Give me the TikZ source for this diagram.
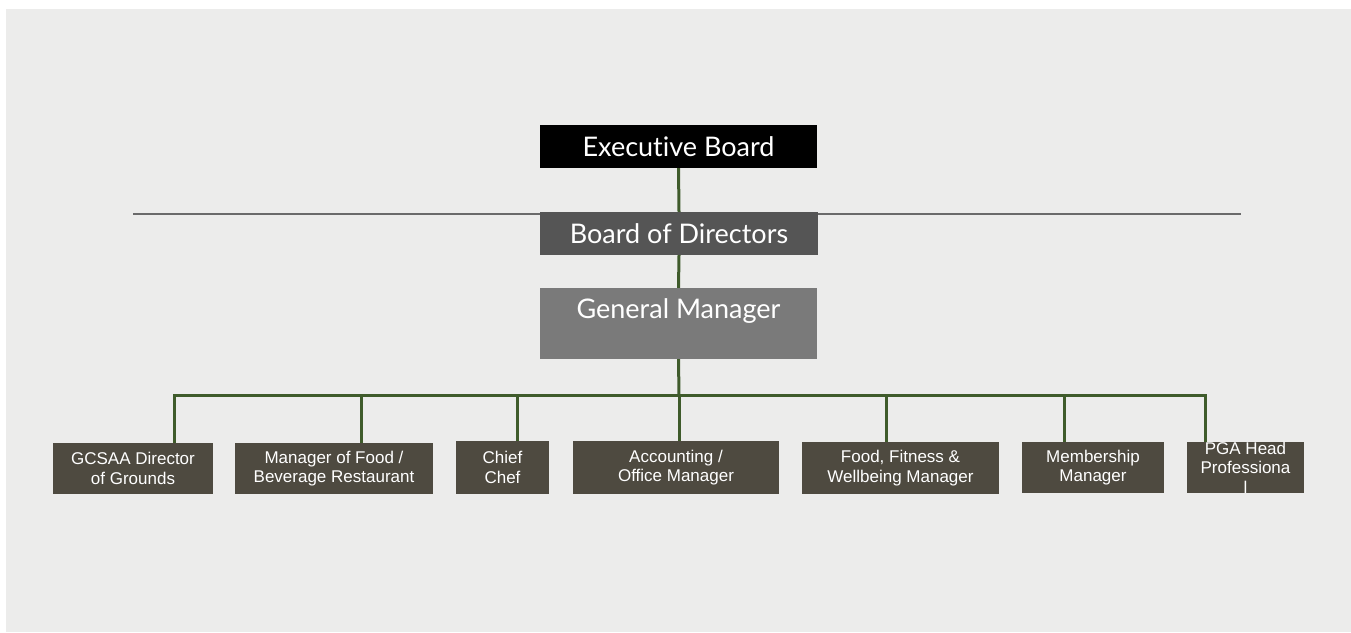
\documentclass[tikz,border=0pt]{standalone}
\usepackage{fontspec}
\setmainfont{Liberation Sans}
\newfontfamily\topfont[Ligatures={NoCommon}]{Lato}
\definecolor{bgc}{HTML}{ECECEB}
\definecolor{greenline}{HTML}{3F5B2B}
\definecolor{childc}{HTML}{4E4A40}
\definecolor{bodc}{HTML}{555555}
\definecolor{gmc}{HTML}{7A7A7A}
\definecolor{sepc}{HTML}{6A6A6A}
\begin{document}
\begin{tikzpicture}[x=1pt,y=-1pt,
  topfontstyle/.style={font=\topfont\fontsize{27}{30}\selectfont},
  topbox/.style={rectangle, draw=none, minimum width=277pt, inner sep=0pt, text=white, topfontstyle},
  childbox/.style={rectangle, fill=childc, draw=none, inner sep=0pt, minimum height=51pt, text=white, align=center, font=\fontsize{17}{19.5}\selectfont},
  conn/.style={draw=greenline, line width=3pt},
]
\useasboundingbox (0,0) rectangle (1351,632);
\fill[white] (0,0) rectangle (1351,632);
\fill[bgc] (6,9) rectangle (1351,632);

% separator line
\coordinate (sepL) at (133,214);
\coordinate (sepR) at (1241,214);
\draw[sepc, line width=2pt] (sepL) -- (sepR);

% top boxes
\node[topbox, fill=black, minimum height=43pt] (eb) at (678.5,146.5) {Executive Board};
\node[topbox, fill=bodc, minimum height=43pt, minimum width=278pt] (bod) at (679,233.5) {Board of Directors};
\node[topbox, fill=gmc, minimum height=71pt, label={[anchor=north, text=white, topfontstyle, yshift=-7pt]north:General Manager}] (gm) at (678.5,323.5) {};

% children
\node[childbox, minimum width=160pt] (c1) at (133,468.5) {GCSAA Director\\of Grounds};
\node[childbox, minimum width=198pt] (c2) at (334,468.5) {Manager of Food /\\Beverage Restaurant};
\node[childbox, minimum width=93pt, minimum height=53pt] (c3) at (502.5,467.5) {Chief\\Chef};
\node[childbox, minimum width=206pt, minimum height=53pt] (c4) at (676,467.5) {Accounting /\\Office Manager};
\node[childbox, minimum width=197pt, minimum height=52pt] (c5) at (900.5,468) {Food, Fitness \&\\Wellbeing Manager};
\node[childbox, minimum width=142pt] (c6) at (1093,467.5) {Membership\\Manager};
\node[childbox, minimum width=117pt] (c7) at (1245.5,467.5) {PGA Head\\Professiona\\l};

% connectors
\draw[conn] (eb.south) -- (bod.north);
\draw[conn] (bod.south) -- (gm.north);
\coordinate (bus) at (679,395.5);
\draw[conn] (gm.south) -- (bus);
\draw[conn] (174,395.5) -- (1205,395.5);
\draw[conn] (174,394) -- (c1.north -| 174,0);
\draw[conn] (361,395.5) -- (c2.north -| 361,0);
\draw[conn] (517,395.5) -- (c3.north -| 517,0);
\draw[conn] (bus) -- (c4.north -| 679,0);
\draw[conn] (886,395.5) -- (c5.north -| 886,0);
\draw[conn] (1064,395.5) -- (c6.north -| 1064,0);
\draw[conn] (1205,394) -- (c7.north -| 1205,0);
\end{tikzpicture}
\end{document}
